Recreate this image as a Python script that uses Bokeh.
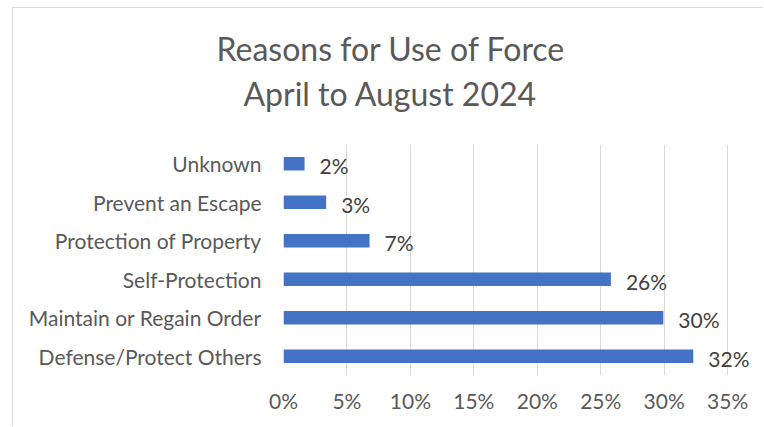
from bokeh.plotting import figure
from bokeh.models import (ColumnDataSource, FactorRange, Range1d, FixedTicker,
                          NumeralTickFormatter, Title)
from bokeh.core.properties import value
from bokeh.embed import file_html
from bokeh.resources import INLINE

# ---- data ----
categories = ["Defense/Protect Others", "Maintain or Regain Order", "Self-Protection",
              "Protection of Property", "Prevent an Escape", "Unknown"]
shares = [0.3229, 0.2993, 0.2580, 0.0678, 0.0336, 0.0166]
x_ticks = [0, 0.05, 0.10, 0.15, 0.20, 0.25, 0.30, 0.35]
title_lines = ["Reasons for Use of Force", "April to August 2024"]

labels = [f"{round(v * 100)}%" for v in shares]
src = ColumnDataSource(dict(cat=categories, val=shares, lab=labels))

FONT = "Lato"
TXT = "#595959"

p = figure(width=751, height=419, output_backend="svg", toolbar_location=None, title=None,
           y_range=FactorRange(factors=categories, range_padding=0),
           x_range=Range1d(0, 0.368),
           min_border_left=270, min_border_right=14, min_border_top=136, min_border_bottom=52)
p.styles = {"border-left": "1px solid #d9d9d9", "border-top": "1px solid #d9d9d9",
            "margin-left": "12px", "margin-top": "7px"}
p.outline_line_color = None
p.background_fill_color = "white"
p.border_fill_color = "white"

p.hbar(y="cat", right="val", left=0, height=0.345, source=src,
       fill_color="#4472C4", line_color=None)

p.text(x="val", y="cat", text="lab", source=src, x_offset=15, y_offset=2,
       text_font=value(FONT), text_font_size="21px", text_color="#404040",
       text_baseline="middle", text_align="left")

# axes
p.xaxis.ticker = FixedTicker(ticks=x_ticks)
p.xaxis.formatter = NumeralTickFormatter(format="0%")
for ax in (p.xaxis[0], p.yaxis[0]):
    ax.axis_line_color = None
    ax.major_tick_line_color = None
    ax.minor_tick_line_color = None
    ax.major_tick_out = 0
    ax.major_tick_in = 0
    ax.minor_tick_out = 0
    ax.major_label_text_font = FONT
    ax.major_label_text_font_size = "21px"
    ax.major_label_text_color = TXT
p.xaxis.major_label_standoff = 12
p.yaxis.major_label_standoff = 22

p.xgrid.ticker = FixedTicker(ticks=x_ticks)
p.xgrid.grid_line_color = "#d9d9d9"
p.xgrid.grid_line_width = 1
p.ygrid.grid_line_color = None

# two-line title; second line is nearest the plot
p.add_layout(Title(text=title_lines[1], align="left", offset=-40, standoff=63,
                   text_font=FONT, text_font_size="32px", text_font_style="normal",
                   text_color=TXT), "above")
p.add_layout(Title(text=title_lines[0], align="left", offset=-67, standoff=-55,
                   text_font=FONT, text_font_size="32px", text_font_style="normal",
                   text_color=TXT), "above")

open("out.html", "w").write(file_html(p, INLINE))
